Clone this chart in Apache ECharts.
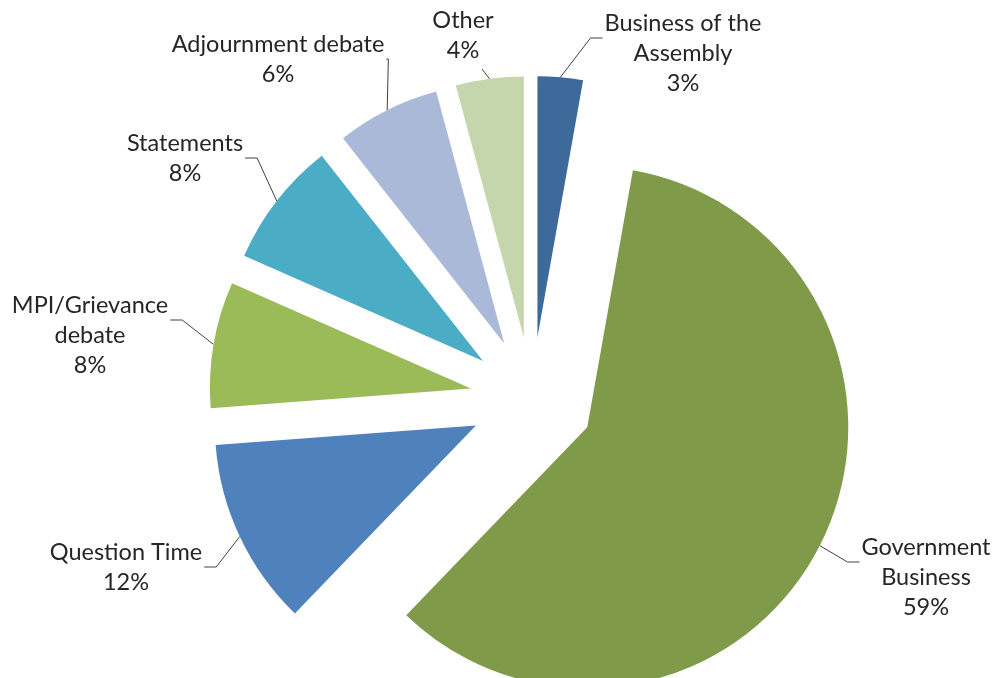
<!DOCTYPE html>
<html><head><meta charset="utf-8">
<script src="https://cdn.jsdelivr.net/npm/echarts@6/dist/echarts.min.js"></script>
<style>html,body{margin:0;padding:0;background:#fff}#c{width:994px;height:678px}</style>
</head><body><div id="c"></div>
<script>
// ---- data ----
const categories = ['Business of the Assembly','Government Business','Question Time','MPI/Grievance debate','Statements','Adjournment debate','Other'];
const labelNames = ['Business of the\nAssembly','Government\nBusiness','Question Time','MPI/Grievance\ndebate','Statements','Adjournment debate','Other'];
const values = [2.8, 59.4, 11.6, 7.8, 7.8, 6.4, 4.2];
// ---- style / layout ----
const colors = ['#3D6A9B','#7F9B4A','#4F81BD','#9BBB59','#4BACC6','#A9B9D7','#C6D6AC'];
const labelPos = [[683,53],[926,577],[126,567],[90,335],[185,158],[278,59],[463,35]];
const labelSide = ['right','right','left','left','left','up','down'];
const CENTER = [532, 399];
const RADIUS = 261;
const OFFSET = 62;
const LINE_H = 30;

const chart = echarts.init(document.getElementById('c'), null, {renderer:'canvas'});
chart.setOption({
  animation: false,
  backgroundColor: '#fff',
  series: [{
    // exploded slices
    type: 'pie',
    center: CENTER,
    radius: RADIUS,
    startAngle: 90,
    clockwise: true,
    selectedMode: 'multiple',
    selectedOffset: OFFSET,
    avoidLabelOverlap: false,
    emphasis: {disabled: true},
    itemStyle: {borderWidth: 0},
    label: {show: false},
    labelLine: {show: false},
    data: categories.map((n, i) => ({name: n, value: values[i], selected: true, itemStyle: {color: colors[i]}}))
  }, {
    // data labels with leader lines (same layout, invisible sectors)
    type: 'pie',
    center: CENTER,
    radius: RADIUS,
    startAngle: 90,
    clockwise: true,
    silent: true,
    selectedMode: false,
    avoidLabelOverlap: false,
    emphasis: {disabled: true},
    itemStyle: {color: 'rgba(0,0,0,0)', borderWidth: 0},
    label: {
      show: true,
      position: 'outside',
      fontFamily: 'Lato',
      fontSize: 23.5,
      lineHeight: LINE_H,
      color: '#262626',
      align: 'center',
      formatter: p => labelNames[p.dataIndex] + '\n' + Math.round(p.percent) + '%'
    },
    labelLine: {show: true, length: 15, length2: 10, lineStyle: {color: '#404040', width: 1}},
    labelLayout: function (params) {
      const i = params.dataIndex;
      const cx = labelPos[i][0], cy = labelPos[i][1];
      const w = params.labelRect.width, h = params.labelRect.height;
      const left = cx - w / 2, right = cx + w / 2, top = cy - h / 2, bottom = cy + h / 2;
      const flb = top + LINE_H;
      let p0 = params.labelLinePoints[0];
      const vx = p0[0] - CENTER[0], vy = p0[1] - CENTER[1];
      const len = Math.sqrt(vx * vx + vy * vy) || 1;
      p0 = [p0[0] + OFFSET * vx / len, p0[1] + OFFSET * vy / len];
      let pts;
      if (labelSide[i] === 'right') pts = [p0, [left - 14, flb], [left - 2, flb]];
      else if (labelSide[i] === 'left') pts = [p0, [right + 14, flb], [right + 2, flb]];
      else if (labelSide[i] === 'up') pts = [p0, [right + 4, flb], [right + 2, flb]];
      else pts = [p0, [cx + 19, bottom + 4], [cx + 19, bottom + 4]];
      return {x: cx, y: cy, align: 'center', verticalAlign: 'middle', labelLinePoints: pts};
    },
    data: categories.map((n, i) => ({name: n, value: values[i]}))
  }]
});
</script>
</body></html>
